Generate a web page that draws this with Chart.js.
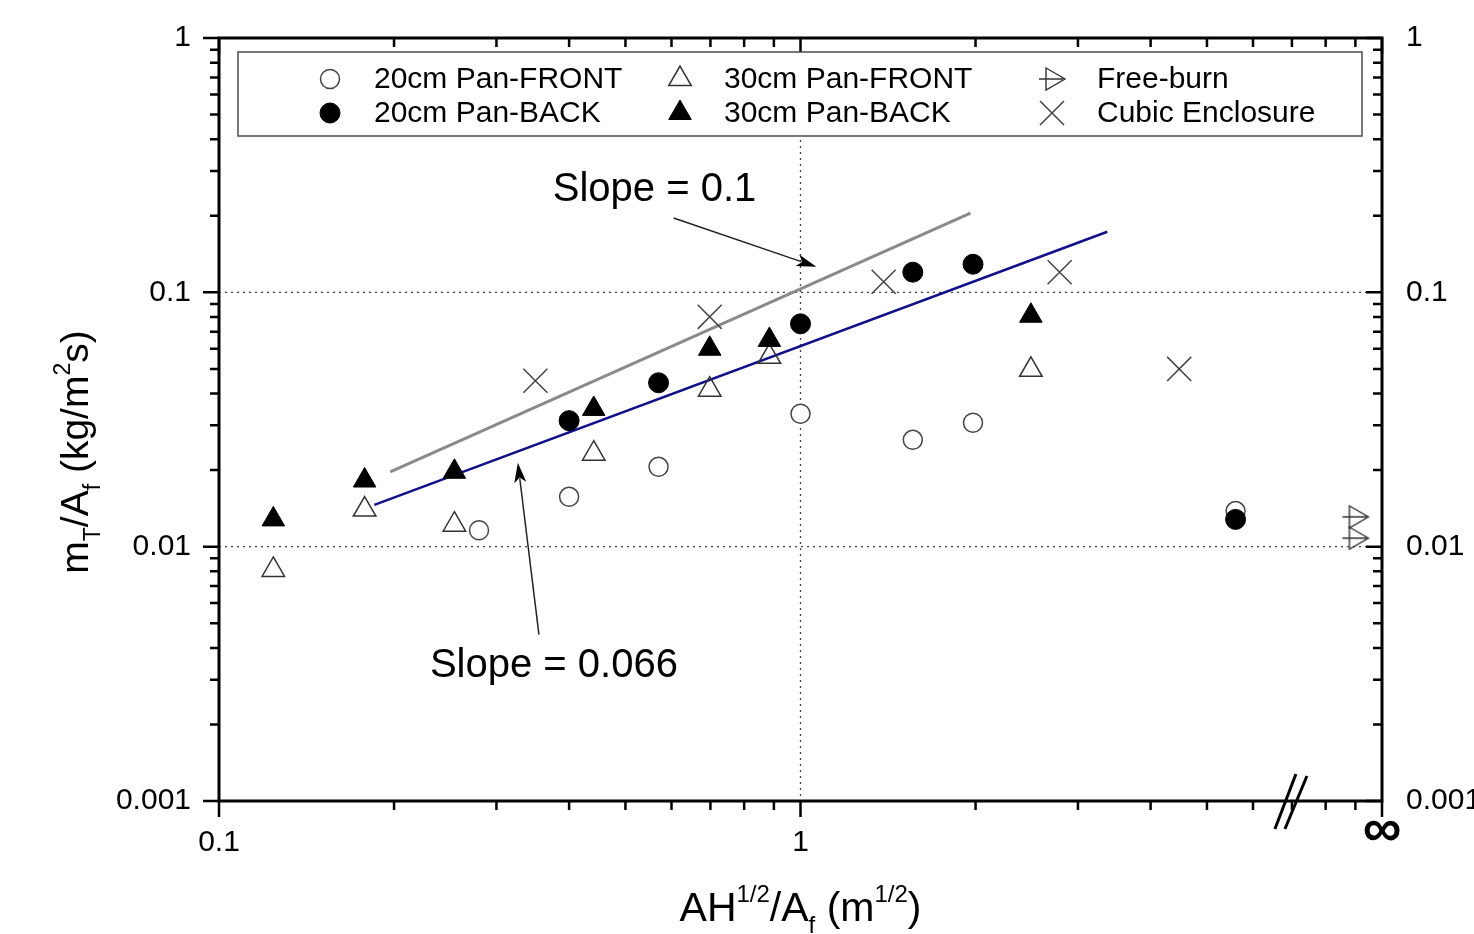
<!DOCTYPE html>
<html>
<head>
<meta charset="utf-8">
<script src="https://cdn.jsdelivr.net/npm/chart.js@4.4.1/dist/chart.umd.min.js"></script>
<style>
  html, body { margin: 0; padding: 0; background: #fff; }
  #burnChart { display: block; }
</style>
</head>
<body>
<canvas id="burnChart" width="1474" height="934"></canvas>
<script>
const FONT = '"Liberation Sans", Arial, Helvetica, sans-serif'

const pan20FrontX = [0.28, 0.40, 0.57, 1.0, 1.56, 1.98, 5.6]
const pan20FrontY = [0.0116, 0.0157, 0.0206, 0.0333, 0.0263, 0.0307, 0.0138]
const pan20BackX = [0.40, 0.57, 1.0, 1.56, 1.98, 5.6]
const pan20BackY = [0.0313, 0.0441, 0.0752, 0.120, 0.129, 0.0128]
const pan30FrontX = [0.124, 0.178, 0.254, 0.441, 0.698, 0.884, 2.49]
const pan30FrontY = [0.0081, 0.0140, 0.0122, 0.0232, 0.0414, 0.0558, 0.0496]
const pan30BackX = [0.124, 0.178, 0.254, 0.441, 0.698, 0.884, 2.49]
const pan30BackY = [0.0128, 0.0182, 0.0197, 0.0348, 0.060, 0.065, 0.0809]
const freeBurnX = [9.0, 9.0]
const freeBurnY = [0.0131, 0.0108]
const cubicX = [0.35, 0.698, 1.39, 2.79, 4.48]
const cubicY = [0.0449, 0.0801, 0.110, 0.120, 0.050]

// the two fitted lines
const slope01X = [0.197, 1.96]
const slope01Y = [0.0197, 0.205]
const slope066X = [0.185, 3.37]
const slope066Y = [0.0146, 0.173]

// axes
const xMajor = [0.1, 1, 10]
const xTickLabels = ['0.1', '1', '']
const yMajor = [0.001, 0.01, 0.1, 1]
const yTickLabels = ['0.001', '0.01', '0.1', '1']
const mantissas = [2, 3, 4, 5, 6, 7, 8, 9]
const xMinor = [0.1, 1].flatMap(d => mantissas.map(m => +(m * d).toPrecision(3)))
const yMinor = [0.001, 0.01, 0.1].flatMap(d => mantissas.map(m => +(m * d).toPrecision(3)))
const xBreakAt = 7
const xGrid = [1]
const yGrid = [0.1, 0.01]

// annotations, in data units
const slope01Text = { x: 0.375, y: 0.229, text: 'Slope = 0.1' }
const slope01Arrow = { x1: 0.605, y1: 0.196, x2: 1.065, y2: 0.126 }
const slope066Text = { x: 0.2305, y: 0.00308, text: 'Slope = 0.066' }
const slope066Arrow = { x1: 0.355, y1: 0.00451, x2: 0.3265, y2: 0.0214 }

const toPoints = (xs, ys) => xs.map((x, i) => ({ x, y: ys[i] }))

const makeFreeBurnIcon = () => {
  const c = document.createElement('canvas')
  c.width = 30
  c.height = 26
  const g = c.getContext('2d')
  g.strokeStyle = '#333'
  g.lineWidth = 1.4
  g.beginPath()
  g.moveTo(9, 2)
  g.lineTo(28, 13)
  g.lineTo(9, 24)
  g.closePath()
  g.moveTo(2, 13)
  g.lineTo(26, 13)
  g.stroke()
  return c
}
const freeBurnIcon = makeFreeBurnIcon()

const datasets = [
  { label: '20cm Pan-BACK', data: toPoints(pan20BackX, pan20BackY), pointStyle: 'circle', pointRadius: 10,
    pointBackgroundColor: '#000', pointBorderColor: '#000', pointBorderWidth: 1 },
  { label: '30cm Pan-BACK', data: toPoints(pan30BackX, pan30BackY), pointStyle: 'triangle', pointRadius: 13,
    pointBackgroundColor: '#000', pointBorderColor: '#000', pointBorderWidth: 1 },
  { label: '20cm Pan-FRONT', data: toPoints(pan20FrontX, pan20FrontY), pointStyle: 'circle', pointRadius: 9.5,
    pointBackgroundColor: '#fff', pointBorderColor: '#444', pointBorderWidth: 1.5 },
  { label: '30cm Pan-FRONT', data: toPoints(pan30FrontX, pan30FrontY), pointStyle: 'triangle', pointRadius: 13,
    pointBackgroundColor: 'rgba(255,255,255,0)', pointBorderColor: '#333', pointBorderWidth: 1.5 },
  { label: 'Free-burn', data: toPoints(freeBurnX, freeBurnY), pointStyle: freeBurnIcon, pointRadius: 13,
    pointBackgroundColor: 'rgba(0,0,0,0)', pointBorderColor: '#333', pointBorderWidth: 1.4 },
  { label: 'Cubic Enclosure', data: toPoints(cubicX, cubicY), pointStyle: 'crossRot', pointRadius: 17,
    pointBackgroundColor: 'rgba(0,0,0,0)', pointBorderColor: '#444', pointBorderWidth: 1.5 },
  { label: 'Slope = 0.1', data: toPoints(slope01X, slope01Y), showLine: true, pointRadius: 0,
    borderColor: '#8a8a8a', borderWidth: 3, fill: false },
  { label: 'Slope = 0.066', data: toPoints(slope066X, slope066Y), showLine: true, pointRadius: 0,
    borderColor: '#10108a', borderWidth: 2.5, fill: false }
]

// legend: 3 columns x 2 rows, column-major like the original
const legendOrder = ['20cm Pan-FRONT', '20cm Pan-BACK', '30cm Pan-FRONT', '30cm Pan-BACK', 'Free-burn', 'Cubic Enclosure']
const legendBox = { left: 238, top: 52, right: 1362, bottom: 136 }
const legendCols = [{ mark: 330, text: 374 }, { mark: 680, text: 724 }, { mark: 1052, text: 1097 }]
const legendRows = [79, 113]

const drawRich = (ctx, parts, cx, baseline, size) => {
  const small = Math.round(size * 0.58)
  let width = 0
  parts.forEach(([t, k]) => {
    ctx.font = `${k ? small : size}px ${FONT}`
    width += ctx.measureText(t).width
  })
  let x = cx - width / 2
  ctx.textAlign = 'left'
  ctx.textBaseline = 'alphabetic'
  parts.forEach(([t, k]) => {
    ctx.font = `${k ? small : size}px ${FONT}`
    const dy = k === 1 ? -size * 0.46 : k === -1 ? size * 0.3 : 0
    ctx.fillText(t, x, baseline + dy)
    x += ctx.measureText(t).width
  })
}

const drawArrow = (ctx, x1, y1, x2, y2) => {
  const a = Math.atan2(y2 - y1, x2 - x1)
  const len = 20, half = 6
  ctx.beginPath()
  ctx.moveTo(x1, y1)
  ctx.lineTo(x2 - Math.cos(a) * len * 0.8, y2 - Math.sin(a) * len * 0.8)
  ctx.stroke()
  ctx.beginPath()
  ctx.moveTo(x2, y2)
  ctx.lineTo(x2 - Math.cos(a) * len + Math.sin(a) * half, y2 - Math.sin(a) * len - Math.cos(a) * half)
  ctx.lineTo(x2 - Math.cos(a) * len * 0.75, y2 - Math.sin(a) * len * 0.75)
  ctx.lineTo(x2 - Math.cos(a) * len - Math.sin(a) * half, y2 - Math.sin(a) * len + Math.cos(a) * half)
  ctx.closePath()
  ctx.fill()
}

const originPlugin = {
  id: 'originLook',
  beforeDatasetsDraw(chart) {
    const { ctx, chartArea: { left, right, top, bottom } } = chart
    const xs = chart.scales.x, ys = chart.scales.y
    ctx.save()
    ctx.strokeStyle = '#444'
    ctx.lineWidth = 1.3
    ctx.setLineDash([2, 4])
    ctx.beginPath()
    xGrid.forEach(v => { const p = xs.getPixelForValue(v); ctx.moveTo(p, top); ctx.lineTo(p, bottom) })
    yGrid.forEach(v => { const p = ys.getPixelForValue(v); ctx.moveTo(left, p); ctx.lineTo(right, p) })
    ctx.stroke()
    ctx.restore()
  },
  afterDatasetsDraw(chart) {
    const { ctx, chartArea: { left, right, top, bottom } } = chart
    const xs = chart.scales.x, ys = chart.scales.y
    ctx.save()

    // tick marks: out on left/bottom, in on top/right
    ctx.strokeStyle = '#000'
    ctx.lineWidth = 2.5
    ctx.beginPath()
    const xTick = (v, len) => {
      const p = xs.getPixelForValue(v)
      ctx.moveTo(p, bottom); ctx.lineTo(p, bottom + len)
      ctx.moveTo(p, top); ctx.lineTo(p, top + len)
    }
    const yTick = (v, len) => {
      const p = ys.getPixelForValue(v)
      ctx.moveTo(left, p); ctx.lineTo(left - len, p)
      ctx.moveTo(right, p); ctx.lineTo(right - len, p)
    }
    xMajor.forEach(v => xTick(v, 16))
    xMinor.forEach(v => xTick(v, 9))
    yMajor.forEach(v => yTick(v, 16))
    yMinor.forEach(v => yTick(v, 9))
    ctx.stroke()

    ctx.lineWidth = 3
    ctx.strokeRect(left, top, right - left, bottom - top)

    // axis break before infinity
    const bx = xs.getPixelForValue(xBreakAt)
    ctx.beginPath()
    ctx.moveTo(bx - 17, bottom + 28); ctx.lineTo(bx + 4, bottom - 27)
    ctx.moveTo(bx - 7, bottom + 28); ctx.lineTo(bx + 15, bottom - 25)
    ctx.stroke()

    ctx.fillStyle = '#000'
    ctx.font = `bold 54px ${FONT}`
    ctx.textAlign = 'center'
    ctx.textBaseline = 'middle'
    ctx.fillText('\u221E', xs.getPixelForValue(xMajor[xMajor.length - 1]), bottom + 30)

    // slope annotations
    ctx.fillStyle = '#000'
    ctx.font = `40px ${FONT}`
    ctx.textAlign = 'left'
    ctx.textBaseline = 'alphabetic'
    ctx.fillText(slope01Text.text, xs.getPixelForValue(slope01Text.x), ys.getPixelForValue(slope01Text.y))
    ctx.fillText(slope066Text.text, xs.getPixelForValue(slope066Text.x), ys.getPixelForValue(slope066Text.y))
    ctx.strokeStyle = '#222'
    ctx.fillStyle = '#000'
    ctx.lineWidth = 1.5
    ;[slope01Arrow, slope066Arrow].forEach(a => drawArrow(ctx,
      xs.getPixelForValue(a.x1), ys.getPixelForValue(a.y1),
      xs.getPixelForValue(a.x2), ys.getPixelForValue(a.y2)))

    // legend
    ctx.fillStyle = '#fff'
    ctx.fillRect(legendBox.left, legendBox.top, legendBox.right - legendBox.left, legendBox.bottom - legendBox.top)
    ctx.strokeStyle = '#555'
    ctx.lineWidth = 1.6
    ctx.strokeRect(legendBox.left, legendBox.top, legendBox.right - legendBox.left, legendBox.bottom - legendBox.top)
    legendOrder.forEach((name, i) => {
      const ds = datasets.find(d => d.label === name)
      const col = legendCols[Math.floor(i / 2)]
      const y = legendRows[i % 2]
      ctx.fillStyle = ds.pointBackgroundColor
      ctx.strokeStyle = ds.pointBorderColor
      ctx.lineWidth = ds.pointBorderWidth
      Chart.helpers.drawPoint(ctx, { pointStyle: ds.pointStyle, radius: ds.pointRadius, borderWidth: ds.pointBorderWidth, rotation: 0 }, col.mark, y)
      ctx.fillStyle = '#000'
      ctx.font = `30px ${FONT}`
      ctx.textAlign = 'left'
      ctx.textBaseline = 'middle'
      ctx.fillText(name, col.text, y + 1)
    })

    // axis titles with super/subscripts
    ctx.fillStyle = '#000'
    drawRich(ctx, [['AH', 0], ['1/2', 1], ['/A', 0], ['f', -1], [' (m', 0], ['1/2', 1], [')', 0]], (left + right) / 2, 921, 41)
    ctx.save()
    ctx.translate(88, 452)
    ctx.rotate(-Math.PI / 2)
    drawRich(ctx, [['m', 0], ['T', -1], ['/A', 0], ['f', -1], [' (kg/m', 0], ['2', 1], ['s)', 0]], 0, 0, 39)
    ctx.restore()

    ctx.restore()
  }
}

const noOverhang = s => { s.paddingTop = 0; s.paddingBottom = 0; s.paddingLeft = 0; s.paddingRight = 0 }

const logAxis = (extra) => Object.assign({
  type: 'logarithmic',
  grid: { display: false, drawTicks: false },
  border: { display: false }
}, extra)

const chartCtx = document.getElementById('burnChart').getContext('2d')
new Chart(chartCtx, {
  type: 'scatter',
  data: { datasets },
  options: {
    responsive: false,
    animation: false,
    devicePixelRatio: 1,
    layout: { padding: 0 },
    plugins: { legend: { display: false }, tooltip: { enabled: false } },
    scales: {
      x: logAxis({
        position: 'bottom', min: 0.1, max: 10,
        afterBuildTicks: s => { s.ticks = xMajor.map(v => ({ value: v })) },
        afterFit: s => { s.height = 133; noOverhang(s) },
        ticks: { autoSkip: false, maxRotation: 0, padding: 24, color: '#000',
          font: { family: FONT, size: 30 }, callback: (v, i) => xTickLabels[i] }
      }),
      xTop: logAxis({
        position: 'top', min: 0.1, max: 10,
        ticks: { display: false },
        afterFit: s => { s.height = 38; noOverhang(s) }
      }),
      y: logAxis({
        position: 'left', min: 0.001, max: 1,
        afterBuildTicks: s => { s.ticks = yMajor.map(v => ({ value: v })) },
        afterFit: s => { s.width = 219; noOverhang(s) },
        ticks: { autoSkip: false, padding: 28, color: '#000',
          font: { family: FONT, size: 30 }, callback: (v, i) => yTickLabels[i] }
      }),
      yRight: logAxis({
        position: 'right', min: 0.001, max: 1,
        afterBuildTicks: s => { s.ticks = yMajor.map(v => ({ value: v })) },
        afterFit: s => { s.width = 92; noOverhang(s) },
        ticks: { autoSkip: false, padding: 24, color: '#000',
          font: { family: FONT, size: 30 }, callback: (v, i) => yTickLabels[i] }
      })
    }
  },
  plugins: [originPlugin]
})
</script>
</body>
</html>
